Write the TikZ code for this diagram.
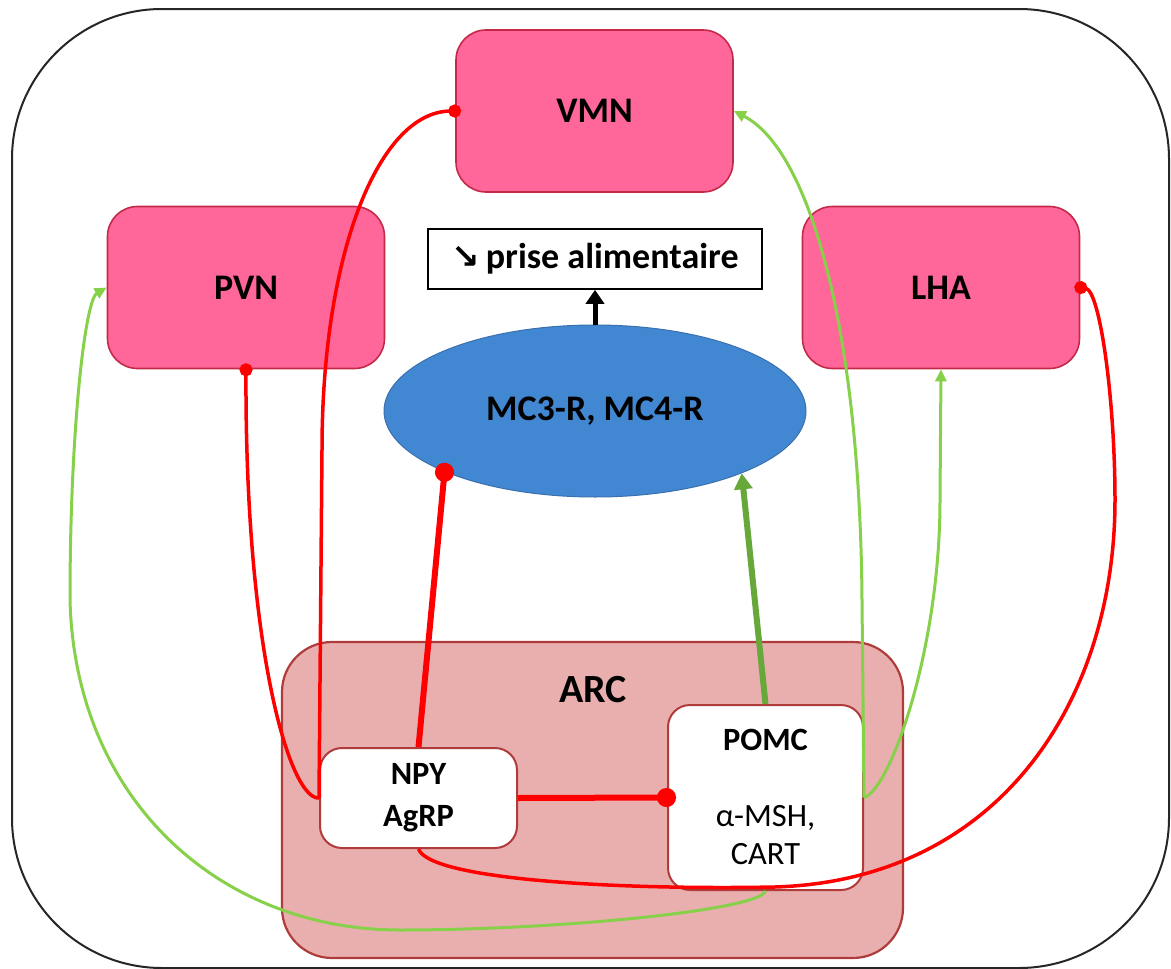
\documentclass[tikz,border=0pt]{standalone}
\usepackage{fontspec}
\setmainfont{Carlito}
\newfontfamily\arrowfont{DejaVu Sans}
\usetikzlibrary{arrows.meta,shapes.geometric}
\definecolor{pinkfill}{HTML}{FF6699}
\definecolor{pinkedge}{HTML}{C42A48}
\definecolor{arcfill}{HTML}{E9AFAF}
\definecolor{arcedge}{HTML}{B03B3B}
\definecolor{ellfill}{HTML}{4287D2}
\definecolor{elledge}{HTML}{3A70AE}
\definecolor{lightgreen}{HTML}{86D04A}
\definecolor{darkgreen}{HTML}{67A83B}
\definecolor{inhred}{HTML}{FF0000}
\newcommand\lblfont{\fontsize{36}{42}\selectfont}
\begin{document}
\begin{tikzpicture}[x=1pt,y=-1pt,
  frame/.style={draw=black!85, line width=2pt, rounded corners=150pt, minimum width=1157pt, minimum height=959pt, inner sep=0pt},
  region/.style={draw=pinkedge, fill=pinkfill, line width=1.6pt, rounded corners=30pt, minimum width=277pt, minimum height=162pt, inner sep=0pt, font=\lblfont\bfseries},
  arcbox/.style={draw=arcedge, fill=arcfill, line width=2.2pt, rounded corners=50pt, minimum width=621pt, minimum height=316pt, inner sep=0pt},
  cellbox/.style={draw=arcedge, fill=white, line width=2pt, rounded corners=22pt, inner sep=0pt, align=center},
  outbox/.style={draw=black, line width=1.6pt, fill=white, minimum width=334pt, minimum height=60pt, inner sep=0pt, font=\lblfont\bfseries},
  receptor/.style={ellipse, draw=elledge, fill=ellfill, line width=1pt, minimum width=422pt, minimum height=172pt, inner sep=0pt, font=\lblfont\bfseries},
  inhthin/.style={draw=inhred, line width=3.5pt, -{Circle[length=13pt]}, shorten >=-6pt},
  inhstart/.style={draw=inhred, line width=3.5pt, {Circle[length=13pt]}-, shorten <=-6pt},
  inhthick/.style={draw=inhred, line width=6pt, -{Circle[length=19pt]}, shorten >=-9pt},
  exthin/.style={draw=lightgreen, line width=3pt, -{Triangle[length=12pt,width=11pt]}},
  exthick/.style={draw=darkgreen, line width=6pt, -{Triangle[length=16pt,width=18pt]}},
  outarrow/.style={draw=black, line width=5pt, -{Triangle[length=14pt,width=18pt]}}
]
\useasboundingbox (0,0) rectangle (1171,969);
\node[frame] (frame) at (590.5,488.5) {};

\node[region] (VMN) at (594.5,111) {VMN};
\node[region] (PVN) at (246,287.5) {PVN};
\node[region] (LHA) at (941,287.5) {LHA};
\node[outbox] (out) at (595,259) {{\arrowfont\fontsize{34}{36}\selectfont\bfseries ↘}\,prise alimentaire};
\node[receptor] (MC) at (595,411) {MC3-R, MC4-R};

\node[arcbox] (ARC) at (592.5,800) {};
\node[font=\fontsize{40}{44}\selectfont\bfseries] (arclbl) at (593,690) {ARC};
\node[cellbox, minimum width=197pt, minimum height=100pt, font=\fontsize{32.5}{42}\selectfont\bfseries] (NPY) at (418.5,798) {NPY\\AgRP};
\node[cellbox, minimum width=195pt, minimum height=185pt, font=\fontsize{32.5}{38}\selectfont, text depth=2pt] (POMC) at (765.5,797.5) {\textbf{POMC}\\[38pt]α-MSH,\\CART};

% connectors
\draw[outarrow] (MC.north) -- (out.south);
\draw[inhstart] (PVN.south) .. controls (245,650) and (290,800) .. (NPY.west);
\draw[inhthin] (NPY.west) -- (322,450) .. controls (322,250) and (380,112) .. (VMN.west);
\draw[inhthick] (NPY.north) -- (MC.202);
\draw[exthick] (POMC.north) -- (MC.337);
\draw[inhthick] (NPY.east) -- (POMC.west);
\draw[inhthin] (NPY.south) .. controls (430,880) and (620,890) .. (775,887)
   .. controls (1000,880) and (1115,700) .. (1115,500)
   .. controls (1115,400) and (1100,290) .. (LHA.east);
\draw[exthin] (POMC.south) .. controls (760,910) and (560,930) .. (400,930)
   .. controls (220,930) and (75,800) .. (70,600)
   .. controls (70,430) and (85,300) .. (PVN.west);
\draw[exthin] (POMC.east) -- (862,600) .. controls (860,330) and (810,150) .. (VMN.east);
\draw[exthin] (POMC.east) .. controls (890,790) and (940,650) .. (940,500) -- (LHA.south);
\end{tikzpicture}
\end{document}
